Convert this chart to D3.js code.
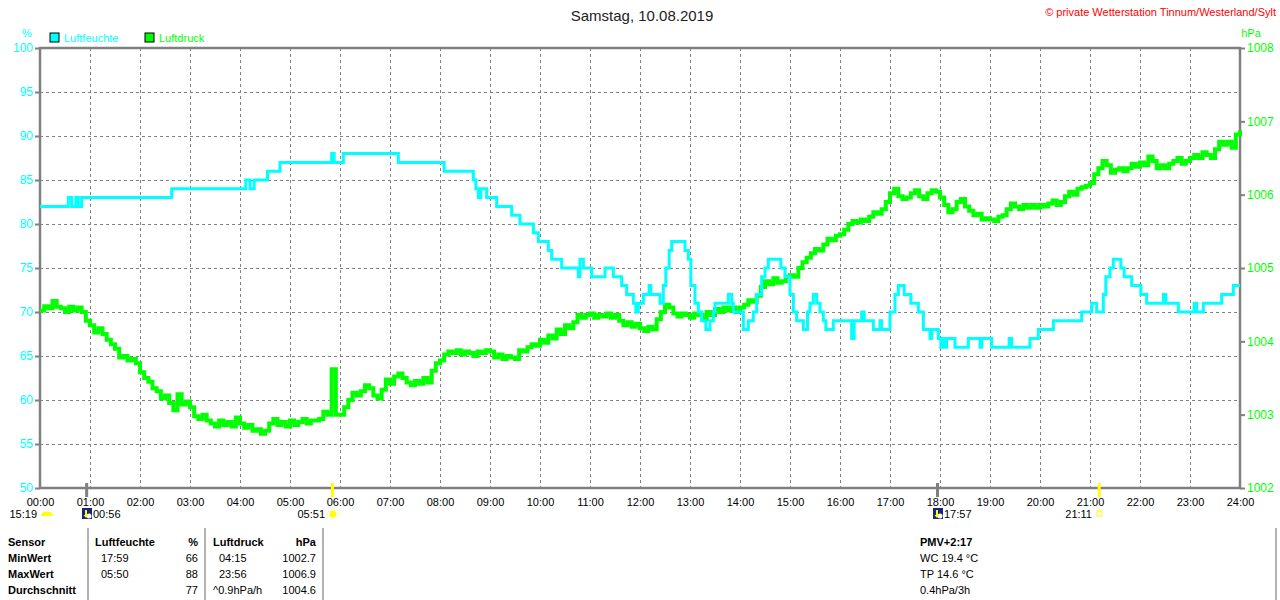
<!DOCTYPE html>
<html>
<head>
    <title>Samstag, 10.08.2019</title>
    <meta charset="utf-8">
    <style>
        body { margin: 0; background: #fff; }
        svg { display: block; font-family: 'Liberation Sans', Arial, sans-serif; }
    </style>
</head>
<body>
<script src="https://cdn.jsdelivr.net/npm/d3@7"></script>
<script>
    // time labels along the bottom
    var xTickLabels = ['00:00','01:00','02:00','03:00','04:00','05:00','06:00','07:00','08:00','09:00',
        '10:00','11:00','12:00','13:00','14:00','15:00','16:00','17:00','18:00','19:00',
        '20:00','21:00','22:00','23:00','24:00'];
    var humTicks = [50, 55, 60, 65, 70, 75, 80, 85, 90, 95, 100];
    var pressTicks = [1002, 1003, 1004, 1005, 1006, 1007, 1008];

    // Luftfeuchte: step changes (minute of day, %)
    var humMinutes = [0,34,38,43,46,50,158,247,252,257,273,288,350,353,364,430,485,520,523,526,529,536,548,566,576,592,598,610,614,626,
        646,648,652,662,678,688,698,704,712,715,718,724,731,733,744,748,751,755,758,774,778,781,786,790,794,799,804,808,810,826,
        830,832,844,850,856,860,866,870,874,889,894,900,904,908,916,921,924,928,932,936,940,943,952,974,977,986,989,1000,1008,1010,
        1020,1026,1030,1037,1045,1054,1060,1068,1070,1078,1081,1084,1086,1088,1098,1114,1128,1130,1142,1163,1166,1188,1198,1216,1250,1262,1268,1276,1279,1284,
        1288,1297,1301,1310,1321,1328,1348,1351,1366,1385,1388,1396,1418,1432,1440];
    var humValues = [82,83,82,83,82,83,84,85,84,85,86,87,88,87,88,87,86,85,84,83,84,83,82,81,80,79,78,77,76,75,
        74,76,75,74,75,74,73,72,71,70,71,72,73,72,71,73,75,77,78,77,76,73,71,70,69,68,69,70,71,72,
        71,70,68,69,70,72,74,75,76,75,74,72,70,69,68,70,71,72,71,70,69,68,69,67,69,70,69,68,69,68,
        70,72,73,72,71,70,68,67,68,67,66,67,66,67,66,67,66,67,66,67,66,67,68,69,70,71,70,72,74,75,
        76,75,74,73,72,71,72,71,70,71,70,71,72,73,73];

    // Luftdruck: one reading every 5 minutes, hPa
    var pressEvery = 5;
    var pressValues = [
        1004.42,1004.48,1004.45,1004.55,1004.47,1004.45,1004.40,1004.47,1004.42,1004.46,1004.40,1004.28,
        1004.22,1004.12,1004.18,1004.10,1004.02,1003.96,1003.90,1003.78,1003.80,1003.74,1003.76,1003.70,
        1003.58,1003.50,1003.45,1003.36,1003.32,1003.22,1003.26,1003.16,1003.06,1003.28,1003.14,1003.18,
        1003.10,1002.98,1002.94,1003.00,1002.92,1002.88,1002.84,1002.92,1002.86,1002.90,1002.84,1002.96,
        1002.88,1002.82,1002.86,1002.78,1002.80,1002.74,1002.78,1002.88,1002.94,1002.86,1002.90,1002.84,
        1002.92,1002.86,1002.90,1002.94,1002.88,1002.92,1002.92,1002.94,1003.04,1003.00,1003.62,1003.00,
        1003.00,1003.10,1003.20,1003.30,1003.26,1003.32,1003.40,1003.36,1003.26,1003.22,1003.34,1003.48,
        1003.42,1003.52,1003.56,1003.50,1003.44,1003.40,1003.46,1003.42,1003.50,1003.44,1003.60,1003.70,
        1003.74,1003.82,1003.86,1003.84,1003.88,1003.82,1003.86,1003.84,1003.80,1003.86,1003.84,1003.88,
        1003.86,1003.78,1003.82,1003.76,1003.80,1003.78,1003.76,1003.88,1003.86,1003.92,1003.96,1003.94,
        1004.02,1003.98,1004.08,1004.04,1004.16,1004.10,1004.22,1004.18,1004.26,1004.36,1004.32,1004.36,
        1004.38,1004.32,1004.36,1004.34,1004.38,1004.32,1004.36,1004.28,1004.22,1004.26,1004.20,1004.24,
        1004.18,1004.14,1004.20,1004.16,1004.30,1004.40,1004.50,1004.46,1004.38,1004.34,1004.38,1004.36,
        1004.32,1004.38,1004.36,1004.30,1004.40,1004.36,1004.44,1004.40,1004.46,1004.42,1004.46,1004.40,
        1004.46,1004.50,1004.56,1004.54,1004.62,1004.74,1004.82,1004.78,1004.86,1004.80,1004.82,1004.88,
        1004.90,1004.88,1005.00,1005.08,1005.14,1005.20,1005.26,1005.24,1005.32,1005.40,1005.38,1005.44,
        1005.46,1005.52,1005.60,1005.64,1005.62,1005.66,1005.64,1005.70,1005.76,1005.74,1005.80,1005.90,
        1006.02,1006.08,1005.98,1005.94,1005.96,1006.02,1006.06,1005.98,1005.94,1006.02,1006.06,1006.04,
        1005.96,1005.86,1005.76,1005.80,1005.90,1005.94,1005.84,1005.78,1005.72,1005.74,1005.66,1005.68,
        1005.66,1005.64,1005.70,1005.72,1005.80,1005.88,1005.84,1005.80,1005.86,1005.82,1005.86,1005.82,
        1005.86,1005.84,1005.88,1005.92,1005.86,1005.90,1005.98,1006.04,1006.00,1006.08,1006.10,1006.12,
        1006.16,1006.28,1006.36,1006.46,1006.40,1006.30,1006.34,1006.36,1006.32,1006.36,1006.42,1006.38,
        1006.44,1006.40,1006.52,1006.46,1006.36,1006.40,1006.36,1006.42,1006.46,1006.50,1006.42,1006.46,
        1006.50,1006.54,1006.50,1006.58,1006.54,1006.50,1006.62,1006.72,1006.68,1006.72,1006.64,1006.82,
        1006.88];

    // sun / moon events under the axis
    var eventTimes = ['00:56', '05:51', '17:57', '21:11'];
    var eventKinds = ['moon', 'sun', 'moon', 'sun'];

    var tableRows = ['Sensor', 'MinWert', 'MaxWert', 'Durchschnitt'];
    var humTimes = ['', '17:59', '05:50', ''];
    var humStats = ['%', '66', '88', '77'];
    var pressTimes = ['', '04:15', '23:56', '^0.9hPa/h'];
    var pressStats = ['hPa', '1002.7', '1006.9', '1004.6'];
    var extraLines = ['PMV+2:17', 'WC 19.4 °C', 'TP 14.6 °C', '0.4hPa/3h'];

    var W = 1280, H = 600;
    var plot = { left: 40, right: 1240, top: 48, bottom: 488 };
    var cyan = '#00FFFF', green = '#00FF00', frame = '#808080';

    var svg = d3.select('body').append('svg')
        .attr('width', W)
        .attr('height', H);

    var x = d3.scaleLinear().domain([0, 1440]).range([plot.left, plot.right]);
    var yH = d3.scaleLinear().domain([50, 100]).range([plot.bottom, plot.top]);
    var yP = d3.scaleLinear().domain([1002, 1008]).range([plot.bottom, plot.top]);

    function toMin(s) {
        var p = s.split(':');
        return +p[0] * 60 + +p[1];
    }

    // grid
    var grid = svg.append('g');
    grid.selectAll('line.v').data(xTickLabels.slice(1, -1))
        .enter().append('line')
        .attr('x1', function (d) { return x(toMin(d)); })
        .attr('x2', function (d) { return x(toMin(d)); })
        .attr('y1', plot.top).attr('y2', plot.bottom);
    grid.selectAll('line.h').data(humTicks.slice(1, -1))
        .enter().append('line')
        .attr('x1', plot.left).attr('x2', plot.right)
        .attr('y1', function (d) { return yH(d); })
        .attr('y2', function (d) { return yH(d); });
    grid.selectAll('line')
        .attr('stroke', frame)
        .attr('stroke-width', 1)
        .attr('stroke-dasharray', '3,3')
        .attr('shape-rendering', 'crispEdges');

    // axes
    var xAxis = d3.axisBottom(x)
        .tickValues(xTickLabels.map(toMin))
        .tickFormat(function (d, i) { return xTickLabels[i]; })
        .tickSize(0).tickPadding(10);
    var gx = svg.append('g').attr('transform', 'translate(0,' + plot.bottom + ')').call(xAxis);
    gx.select('.domain').remove();
    gx.selectAll('text').attr('fill', '#000').attr('font-size', 11).attr('font-family', null);

    var leftAxis = d3.axisLeft(yH).tickValues(humTicks).tickSize(5).tickPadding(2);
    var gl = svg.append('g').attr('transform', 'translate(' + plot.left + ',0)').call(leftAxis);
    gl.select('.domain').remove();
    gl.selectAll('line').attr('stroke', frame).attr('stroke-width', 2);
    gl.selectAll('text').attr('fill', cyan).attr('font-size', 12).attr('font-family', null);

    var rightAxis = d3.axisRight(yP).tickValues(pressTicks).tickFormat(d3.format('d'))
        .tickSize(5).tickPadding(2);
    var gr = svg.append('g').attr('transform', 'translate(' + plot.right + ',0)').call(rightAxis);
    gr.select('.domain').remove();
    gr.selectAll('line').attr('stroke', frame).attr('stroke-width', 2);
    gr.selectAll('text').attr('fill', green).attr('font-size', 12).attr('font-family', null);

    // frame
    svg.append('rect')
        .attr('x', plot.left).attr('y', plot.top)
        .attr('width', plot.right - plot.left)
        .attr('height', plot.bottom - plot.top)
        .attr('fill', 'none')
        .attr('stroke', frame)
        .attr('stroke-width', 2.5);

    // lines
    var pressLine = d3.line()
        .x(function (d, i) { return x(i * pressEvery); })
        .y(function (d) { return yP(d); })
        .curve(d3.curveStepAfter);
    svg.append('path')
        .datum(pressValues)
        .attr('d', pressLine)
        .attr('fill', 'none')
        .attr('stroke', green)
        .attr('stroke-width', 4);

    var humLine = d3.line()
        .x(function (d, i) { return x(humMinutes[i]); })
        .y(function (d) { return yH(d); })
        .curve(d3.curveStepAfter);
    svg.append('path')
        .datum(humValues)
        .attr('d', humLine)
        .attr('fill', 'none')
        .attr('stroke', cyan)
        .attr('stroke-width', 3);

    // header
    svg.append('text')
        .attr('x', 642).attr('y', 21)
        .attr('text-anchor', 'middle')
        .attr('font-size', 15)
        .attr('fill', '#222')
        .text('Samstag, 10.08.2019');
    svg.append('text')
        .attr('x', 1276).attr('y', 16)
        .attr('text-anchor', 'end')
        .attr('font-size', 11)
        .attr('fill', '#f00')
        .text('© private Wetterstation Tinnum/Westerland/Sylt');
    svg.append('text').attr('x', 27).attr('y', 37).attr('text-anchor', 'middle')
        .attr('font-size', 11).attr('fill', cyan).text('%');
    svg.append('text').attr('x', 1251).attr('y', 37).attr('text-anchor', 'middle')
        .attr('font-size', 11).attr('fill', green).text('hPa');

    // legend
    var legend = svg.selectAll('g.legend')
        .data([['Luftfeuchte', cyan, 50], ['Luftdruck', green, 145]])
        .enter().append('g')
        .attr('transform', function (d) { return 'translate(' + d[2] + ',33)'; });
    legend.append('rect')
        .attr('width', 9).attr('height', 9)
        .attr('fill', function (d) { return d[1]; })
        .attr('stroke', '#000').attr('stroke-width', 1);
    legend.append('text')
        .attr('x', 14).attr('y', 9)
        .attr('font-size', 11)
        .attr('fill', function (d) { return d[1]; })
        .text(function (d) { return d[0]; });

    // sun / moon markers
    eventTimes.forEach(function (t, i) {
        var ex = x(toMin(t));
        svg.append('line')
            .attr('x1', ex).attr('x2', ex)
            .attr('y1', 483).attr('y2', 497)
            .attr('stroke', eventKinds[i] == 'sun' ? '#FFFF00' : frame)
            .attr('stroke-width', 3);
    });

    var ev = svg.append('g').attr('font-size', 11).attr('fill', '#000');
    // day length with half sun
    ev.append('text').attr('x', 37).attr('y', 518).attr('text-anchor', 'end').text('15:19');
    ev.append('path').attr('d', 'M41,516 a6,4.5 0 0 1 12,0 z').attr('fill', '#FFFF00');
    // moon icons
    [['00:56', 82], ['17:57', 933]].forEach(function (m) {
        ev.append('rect').attr('x', m[1]).attr('y', 508).attr('width', 10).attr('height', 11).attr('fill', '#1a237e');
        ev.append('circle').attr('cx', m[1] + 7).attr('cy', 516).attr('r', 2.5).attr('fill', '#fff');
        ev.append('path').attr('d', 'M' + (m[1] + 3) + ',510 v5 h-1.5 l2.5,3 l2.5,-3 h-1.5 v-5 z').attr('fill', '#FFFF00');
        ev.append('text').attr('x', m[1] + 11).attr('y', 518).text(m[0]);
    });
    // sunrise
    ev.append('text').attr('x', 325).attr('y', 518).attr('text-anchor', 'end').text('05:51');
    ev.append('circle').attr('cx', 333).attr('cy', 514).attr('r', 3.5).attr('fill', '#FFFF00');
    ev.append('circle').attr('cx', 333).attr('cy', 514).attr('r', 5.5).attr('fill', 'none')
        .attr('stroke', '#FFFF88').attr('stroke-width', 1).attr('stroke-dasharray', '1.5,1.5');
    // sunset
    ev.append('text').attr('x', 1092).attr('y', 518).attr('text-anchor', 'end').text('21:11');
    ev.append('rect').attr('x', 1097).attr('y', 511).attr('width', 5).attr('height', 5)
        .attr('fill', 'none').attr('stroke', '#FFFF00').attr('stroke-width', 1);

    // stats table
    var table = svg.append('g').attr('font-size', 11).attr('fill', '#000');
    [88, 205, 323, 1276].forEach(function (lx) {
        table.append('line')
            .attr('x1', lx).attr('x2', lx)
            .attr('y1', 528).attr('y2', 600)
            .attr('stroke', '#999').attr('stroke-width', 1.5);
    });
    tableRows.forEach(function (r, i) {
        var ty = 546 + i * 16;
        table.append('text').attr('x', 8).attr('y', ty).attr('font-weight', 'bold').text(r);
        table.append('text').attr('x', i == 0 ? 95 : 101).attr('y', ty)
            .attr('font-weight', i == 0 ? 'bold' : null)
            .text(i == 0 ? 'Luftfeuchte' : humTimes[i]);
        table.append('text').attr('x', 198).attr('y', ty).attr('text-anchor', 'end')
            .attr('font-weight', i == 0 ? 'bold' : null).text(humStats[i]);
        table.append('text').attr('x', (i == 0 || i == 3) ? 213 : 219).attr('y', ty)
            .attr('font-weight', i == 0 ? 'bold' : null)
            .text(i == 0 ? 'Luftdruck' : pressTimes[i]);
        table.append('text').attr('x', 316).attr('y', ty).attr('text-anchor', 'end')
            .attr('font-weight', i == 0 ? 'bold' : null).text(pressStats[i]);
        table.append('text').attr('x', 920).attr('y', ty)
            .attr('font-weight', i == 0 ? 'bold' : null).text(extraLines[i]);
    });
</script>
</body>
</html>
